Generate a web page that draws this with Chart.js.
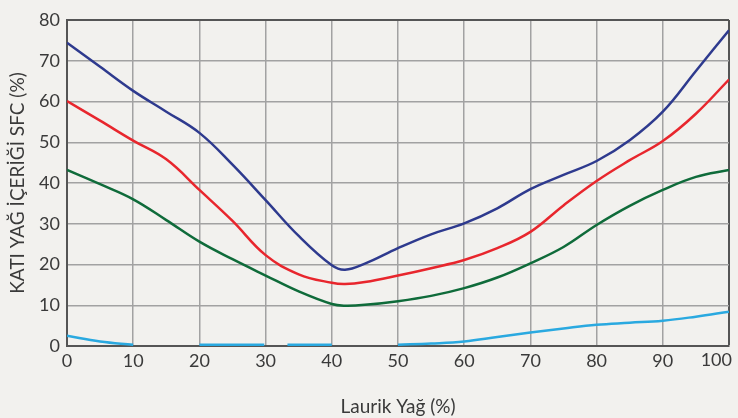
<!DOCTYPE html>
<html>
<head>
<meta charset="utf-8">
<script src="https://cdn.jsdelivr.net/npm/chart.js@4/dist/chart.umd.min.js"></script>
<style>
html,body{margin:0;padding:0;background:#f2f1ee;}
#wrap{width:738px;height:418px;}
</style>
</head>
<body>
<div id="wrap"><canvas id="c" width="738" height="418"></canvas></div>
<script>
const xTitle = 'Laurik Yağ (%)';
const yTitle = 'KATI YAĞ İÇERİĞİ SFC (%)';
const xValues = [0,5,10,15,20,25,30,35,40,42,45,50,55,60,65,70,75,80,85,90,95,100];
const navySeries  = [74.4,68.5,62.6,57.5,52.3,44.5,35.8,27,19.8,18.7,20.2,24,27.4,30.1,33.8,38.5,42,45.4,50.5,57.5,67.5,77.5];
const redSeries   = [60.1,55.3,50.4,45.8,38.3,30.7,22.3,17.6,15.5,15.2,15.7,17.3,19.1,21.1,24,28,34.5,40.5,45.6,50.3,57,65.4];
const greenSeries = [43.2,39.7,36,30.9,25.6,21.3,17.3,13.4,10.3,9.9,10.1,11,12.3,14.2,16.8,20.3,24.3,29.7,34.4,38.3,41.5,43.2];
const lightX      = [0,5,10,15,20,25,29.8,31.5,33.3,40,45,50,55,60,65,70,75,80,85,90,95,100];
const lightSeries = [2.5,1.1,0.3,null,0.3,0.3,0.3,null,0.3,0.3,null,0.3,0.6,1.1,2.2,3.3,4.3,5.2,5.7,6.2,7.2,8.4];
const xTicks = [0,10,20,30,40,50,60,70,80,90,100];
const yTicks = [0,10,20,30,40,50,60,70,80];

const toPts = (xs, ys) => xs.map((x,i)=>({x:x,y:ys[i]}));
const FONT = 'Lato, "Open Sans", sans-serif';
const TXT = '#3a3a3a';

const lastLabel = {
  id:'lastLabel',
  afterDraw(chart){
    const s = chart.scales.x, ctx = chart.ctx;
    ctx.save();
    ctx.font = '18px ' + FONT;
    ctx.fillStyle = TXT;
    ctx.textAlign = 'right';
    ctx.textBaseline = 'middle';
    ctx.fillText(String(xTicks[xTicks.length-1]), s.getPixelForValue(xTicks[xTicks.length-1]) + 3, s.top + 14);
    ctx.restore();
  }
};

const ds = (label, pts, color) => ({
  label, data: pts, borderColor: color, backgroundColor: color,
  borderWidth: 2.5, pointRadius: 0, fill: false, spanGaps: false,
  tension: 0.4
});

new Chart(document.getElementById('c'), {
  type: 'line',
  data: {
    datasets: [
      ds('navy', toPts(xValues, navySeries), '#2e3a8e'),
      ds('red', toPts(xValues, redSeries), '#e8262d'),
      ds('green', toPts(xValues, greenSeries), '#0f6b3a'),
      ds('light', toPts(lightX, lightSeries), '#2aa9e0')
    ]
  },
  options: {
    responsive: false,
    animation: false,
    layout: { padding: { left: 0, right: 9, top: 20, bottom: 0 } },
    plugins: { legend: { display: false }, tooltip: { enabled: false } },
    scales: {
      x: {
        type: 'linear', min: 0, max: 100,
        afterBuildTicks: s => { s.ticks = xTicks.map(v=>({value:v})); },
        afterFit: s => { s.height = 72; },
        ticks: {
          font: { family: FONT, size: 18 }, color: TXT, padding: 4, maxRotation: 0,
          callback: v => v === 100 ? '' : String(v)
        },
        grid: {
          drawTicks: false,
          color: c => c.tick && c.tick.value === 100 ? '#555' : '#a2a2a2',
          lineWidth: c => c.tick && c.tick.value === 100 ? 2 : 1.5
        },
        border: { color: '#555', width: 2 },
        title: { display: true, text: xTitle, font: { family: FONT, size: 19 }, color: TXT, padding: { top: 0, bottom: 0 } }
      },
      y: {
        min: 0, max: 80,
        afterBuildTicks: s => { s.ticks = yTicks.map(v=>({value:v})); },
        afterFit: s => { s.width = 67; },
        ticks: { font: { family: FONT, size: 18 }, color: TXT, padding: 7 },
        grid: {
          drawTicks: false,
          color: c => c.tick && c.tick.value === 80 ? '#555' : '#a2a2a2',
          lineWidth: c => c.tick && c.tick.value === 80 ? 2 : 1.5
        },
        border: { color: '#555', width: 2 },
        title: { display: true, text: yTitle, font: { family: FONT, size: 19 }, color: TXT, padding: { top: 6, bottom: 0 } }
      }
    }
  },
  plugins: [lastLabel, {
    id:'bg',
    beforeDraw(chart){ const ctx=chart.ctx; ctx.save(); ctx.fillStyle='#f2f1ee'; ctx.fillRect(0,0,chart.width,chart.height); ctx.restore(); }
  }]
});
</script>
</body>
</html>
